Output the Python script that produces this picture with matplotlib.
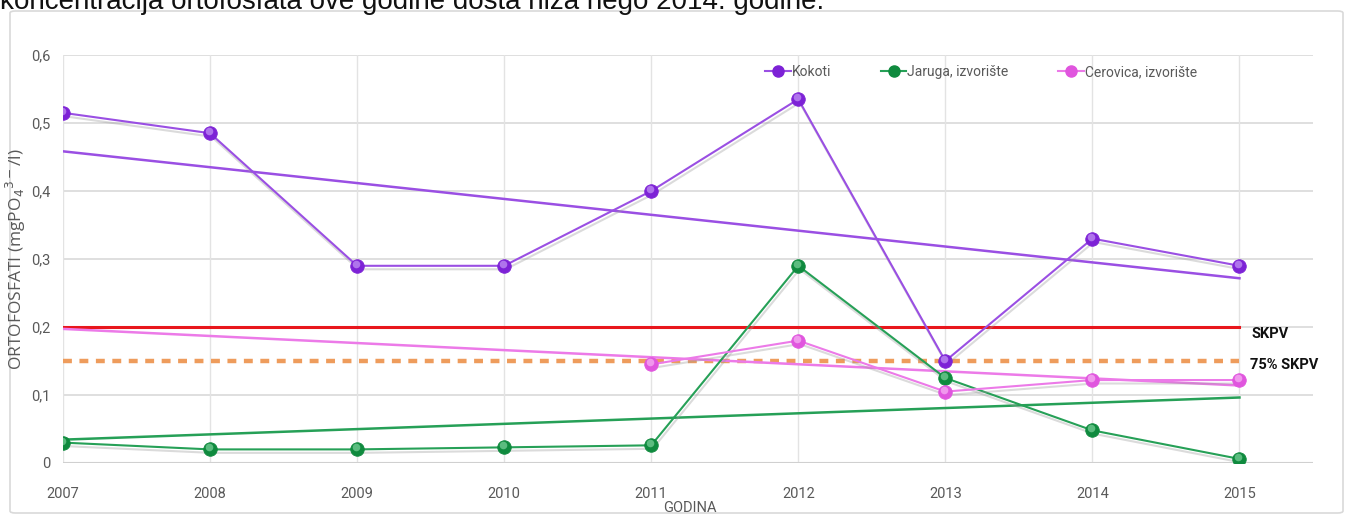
import numpy as np
import matplotlib
matplotlib.use("Agg")
import matplotlib.pyplot as plt
import matplotlib.patheffects as pe
from matplotlib.patches import FancyBboxPatch
from matplotlib.transforms import ScaledTranslation

# ---- data -------------------------------------------------------------
years = [2007, 2008, 2009, 2010, 2011, 2012, 2013, 2014, 2015]
kokoti = [0.515, 0.485, 0.29, 0.29, 0.40, 0.535, 0.15, 0.33, 0.29]
jaruga = [0.03, 0.02, 0.02, 0.023, 0.026, 0.29, 0.125, 0.048, 0.006]
cerovica_years = [2011, 2012, 2013, 2014, 2015]
cerovica = [0.145, 0.18, 0.105, 0.122, 0.122]
skpv = 0.2
skpv75 = 0.15
series_names = ["Kokoti", "Jaruga, izvorište", "Cerovica, izvorište"]
y_ticks = [0, 0.1, 0.2, 0.3, 0.4, 0.5, 0.6]
y_tick_labels = ["0", "0,1", "0,2", "0,3", "0,4", "0,5", "0,6"]
heading = "koncentracija ortofosfata ove godine dosta niža nego 2014. godine."

# ---- style ------------------------------------------------------------
plt.rcParams["font.family"] = ["Roboto", "DejaVu Sans"]
GRAY = "#595959"
C_KOK, C_KOK_M = "#9a4fe3", "#7d22d6"
C_JAR, C_JAR_M = "#26a057", "#0f8a3e"
C_CER, C_CER_M = "#ec7ae8", "#e055de"

W, H = 1349, 519
X0, X1, Y0, Y1 = 63, 1313, 463, 55       # plot area in pixels
fig = plt.figure(figsize=(W / 100, H / 100), dpi=100)

# outer chart frame
frame = FancyBboxPatch((10 / W, 6 / H), 1333 / W, 502 / H,
                       boxstyle="round,pad=0,rounding_size=0.004",
                       transform=fig.transFigure, facecolor="white",
                       edgecolor="#d9d9d9", linewidth=1.2, zorder=-5)
fig.patches.append(frame)

# running text above the chart (partly cut by the page edge)
fig.text(0.0, 1 - 9 / H, heading, fontsize=20, color="#111111",
         family=["Liberation Sans", "DejaVu Sans"], va="baseline", ha="left")

ax = fig.add_axes([X0 / W, 1 - Y0 / H, (X1 - X0) / W, (Y0 - Y1) / H])
ax.set_facecolor("none")
ax.set_xlim(2007, 2015.5)
ax.set_ylim(0, 0.6)

# grid
for y in y_ticks[1:]:
    ax.axhline(y, color="#d9d9d9", lw=1.2, zorder=0)
for x in years:
    ax.axvline(x, color="#e3e3e3", lw=1.0, zorder=0)
for s in ax.spines.values():
    s.set_visible(False)
ax.axhline(0, color="#d0d0d0", lw=1.5, zorder=0)

ax.set_yticks(y_ticks)
ax.set_yticklabels(y_tick_labels)
ax.set_xticks(years)
ax.set_xticklabels([str(y) for y in years])
ax.tick_params(length=0, labelsize=10.5, labelcolor=GRAY)
ax.tick_params(axis="y", pad=9)
ax.tick_params(axis="x", pad=17)

shadow = [pe.SimpleLineShadow(offset=(1, -2.5), shadow_color="#999999", alpha=0.35),
          pe.Normal()]


def sphere_markers(xs, ys, face, hi):
    ax.scatter(xs, ys, s=95, marker="o", color=face, edgecolor=face,
               linewidth=0.6, zorder=6)
    ax.scatter(xs, ys, s=30, marker="o", color=hi, alpha=0.55, linewidth=0,
               zorder=7, transform=ax.transData +
               ScaledTranslation(-1.5 / 100, 2 / 100, fig.dpi_scale_trans))


# reference limits
ax.plot([years[0], years[-1]], [skpv, skpv], color="#e8161c", lw=2.2, zorder=3)
ax.plot([years[0], years[-1]], [skpv75, skpv75], color="#ee9c5c", lw=3.2,
        dashes=(2.0, 1.7), zorder=3)
ax.text(2015.08, skpv - 0.01, "SKPV", fontsize=10.5, fontweight="bold",
        color="#111111", va="center", ha="left")
ax.text(2015.07, skpv75 - 0.006, "75% SKPV", fontsize=10.5, fontweight="bold",
        color="#111111", va="center", ha="left")

# linear trend lines
xs = np.array(years, dtype=float)
for xd, yd, col in [(years, kokoti, C_KOK), (years, jaruga, C_JAR),
                    (cerovica_years, cerovica, C_CER)]:
    k, b = np.polyfit(xd, yd, 1)
    ax.plot(xs, k * xs + b, color=col, lw=1.8, zorder=4)

# measured series
ax.plot(years, kokoti, color=C_KOK, lw=1.5, path_effects=shadow, zorder=5)
ax.plot(years, jaruga, color=C_JAR, lw=1.5, path_effects=shadow, zorder=5)
ax.plot(cerovica_years, cerovica, color=C_CER, lw=1.5, path_effects=shadow,
        zorder=5)
sphere_markers(years, kokoti, C_KOK_M, "#d9b8ff")
sphere_markers(years, jaruga, C_JAR_M, "#9be6b5")
sphere_markers(cerovica_years, cerovica, C_CER_M, "#ffd0fb")

# legend proxies
h1, = ax.plot([], [], color=C_KOK, lw=1.5, marker="o", ms=8, mfc=C_KOK_M, mec=C_KOK_M)
h2, = ax.plot([], [], color=C_JAR, lw=1.5, marker="o", ms=8, mfc=C_JAR_M, mec=C_JAR_M)
h3, = ax.plot([], [], color=C_CER, lw=1.5, marker="o", ms=8, mfc=C_CER_M, mec=C_CER_M)
ax.legend([h1, h2, h3], series_names, ncol=3, frameon=False,
          loc="center left", bbox_to_anchor=((765 - X0) / (X1 - X0), (Y0 - 72) / (Y0 - Y1)),
          fontsize=10, handlelength=1.85, handletextpad=0.05,
          columnspacing=3.6, labelcolor=GRAY, borderaxespad=0, borderpad=0)

ax.set_ylabel("ORTOFOSFATI (mgPO$_4$$^{3-}$/l)", fontsize=12.5, color=GRAY,
              family=["Open Sans", "DejaVu Sans"])
ax.yaxis.set_label_coords(-0.028, 0.5)
fig.text(690 / W, 1 - 508 / H, "GODINA", fontsize=10.5, color=GRAY,
         ha="center", va="center")

fig.savefig("out.png", dpi=100)
